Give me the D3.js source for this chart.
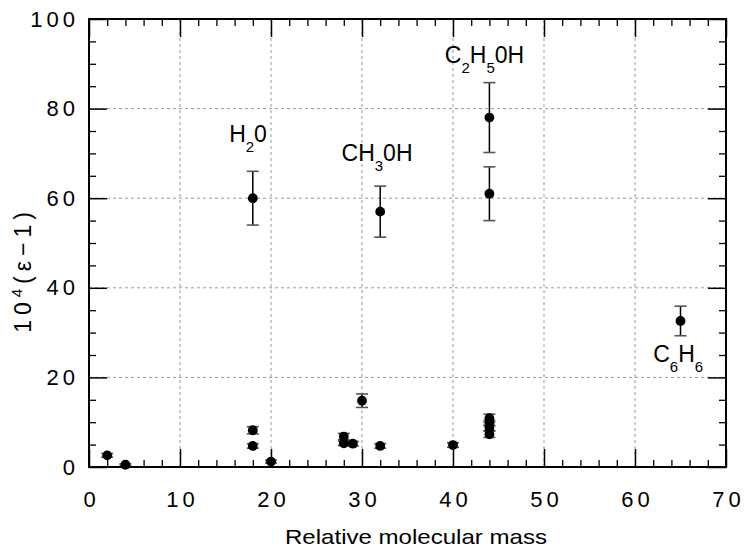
<!DOCTYPE html>
<html lang="en">
<head>
<meta charset="UTF-8">
<title>Relative molecular mass vs 10^4(eps-1)</title>
<script src="https://d3js.org/d3.v7.min.js"></script>
<style>
  body { margin: 0; background: #fff; }
  svg { font-family: "Liberation Sans", Arial, sans-serif; }
  .grid line { stroke: #999; stroke-width: 1; stroke-dasharray: 3,3; }
  .tick text { font-size: 22px; letter-spacing: 4px; fill: #000; }
  .axis path, .axis line { stroke: #000; }
</style>
</head>
<body>
<div id="chart"></div>
<script>
// data
const mass  = [2, 4, 18, 18, 18, 20, 28, 28, 29, 30, 32, 32, 40, 44, 44, 44, 44, 44, 44, 65];
const value = [2.6, 0.5, 60, 8.2, 4.7, 1.2, 6.8, 5.3, 5.2, 14.8, 57, 4.7, 4.9, 78, 61, 10.9, 9.8, 8.7, 7.3, 32.6];
const error = [0.4, 0.2, 6, 0.8, 0.5, 0.3, 0.7, 0.5, 0.5, 1.5, 5.7, 0.5, 0.5, 7.8, 6, 0.9, 0.6, 0.6, 0.7, 3.3];

const xTicks = [0, 10, 20, 30, 40, 50, 60, 70];
const yTicks = [0, 20, 40, 60, 80, 100];

// formula labels: [main, sub, main, sub ...], anchored in data units
const labelParts = [["H", "2", "0"], ["CH", "3", "0H"], ["C", "2", "H", "5", "0H"], ["C", "6", "H", "6"]];
const labelX = [15.4, 27.75, 39.1, 62.0];
const labelY = [72.6, 68.4, 90.2, 23.5];

const W = 746, H = 550;
const m = {left: 89, right: 20, top: 19, bottom: 83};

const svg = d3.select('#chart').append('svg')
    .attr('width', W).attr('height', H);

const x = d3.scaleLinear().domain([0, 70]).range([m.left, W - m.right]);
const y = d3.scaleLinear().domain([0, 100]).range([H - m.bottom, m.top]);

const x0 = x.range()[0], x1 = x.range()[1];
const y0 = y.range()[0], y1 = y.range()[1];

// dashed grid
const grid = svg.append('g').attr('class', 'grid');
grid.selectAll('.vx').data(xTicks.slice(1, -1)).enter().append('line')
    .attr('x1', d => x(d)).attr('x2', d => x(d)).attr('y1', y0).attr('y2', y1);
grid.selectAll('.hy').data(yTicks.slice(1, -1)).enter().append('line')
    .attr('y1', d => y(d)).attr('y2', d => y(d)).attr('x1', x0).attr('x2', x1);

// minor tick values
const xMinor = d3.range(0, 71, 2).filter(d => d % 10 !== 0);
const yMinor = d3.range(0, 101, 5).filter(d => d % 20 !== 0);

function addAxis(gen, tf, major, minor, labels) {
    const g = svg.append('g').attr('class', 'axis').attr('transform', tf);
    g.call(gen.tickValues(major).tickSize(-18).tickSizeOuter(0));
    g.select('.domain').remove();
    g.selectAll('.tick line').attr('stroke-width', 1.5);
    if (!labels) g.selectAll('.tick text').remove();
    const gm = svg.append('g').attr('class', 'axis').attr('transform', tf);
    gm.call(gen.tickValues(minor).tickSize(-7).tickFormat(''));
    gm.select('.domain').remove();
    gm.selectAll('.tick line').attr('stroke-width', 1.3);
    return g;
}

const gxb = addAxis(d3.axisBottom(x).tickPadding(24), `translate(0,${y0})`, xTicks, xMinor, true);
gxb.selectAll('.tick text').attr('dx', 2);
addAxis(d3.axisTop(x), `translate(0,${y1})`, xTicks, xMinor, false);
addAxis(d3.axisLeft(y).tickPadding(10), `translate(${x0},0)`, yTicks, yMinor, true);
addAxis(d3.axisRight(y), `translate(${x1},0)`, yTicks, yMinor, false);

// frame
svg.append('rect')
    .attr('x', x0).attr('y', y1).attr('width', x1 - x0).attr('height', y0 - y1)
    .attr('fill', 'none').attr('stroke', '#000').attr('stroke-width', 2);

// error bars and points
const pts = mass.map((d, i) => ({m: d, v: value[i], e: error[i]}));
const eb = svg.append('g');
eb.selectAll('.bar').data(pts).enter().append('line')
    .attr('x1', d => x(d.m)).attr('x2', d => x(d.m))
    .attr('y1', d => y(d.v - d.e)).attr('y2', d => y(d.v + d.e))
    .attr('stroke', '#000').attr('stroke-width', 1.5);
['top', 'bot'].forEach(k => {
    eb.selectAll('.cap-' + k).data(pts).enter().append('line')
        .attr('x1', d => x(d.m) - 6).attr('x2', d => x(d.m) + 6)
        .attr('y1', d => y(k === 'top' ? d.v + d.e : d.v - d.e))
        .attr('y2', d => y(k === 'top' ? d.v + d.e : d.v - d.e))
        .attr('stroke', '#555').attr('stroke-width', 1.6);
});
svg.append('g').selectAll('circle').data(pts).enter().append('circle')
    .attr('cx', d => x(d.m)).attr('cy', d => y(d.v)).attr('r', 4.9).attr('fill', '#000');

// formula labels
labelParts.forEach((parts, i) => {
    const t = svg.append('text')
        .attr('x', x(labelX[i])).attr('y', y(labelY[i]))
        .attr('font-size', 23).attr('fill', '#000');
    parts.forEach((p, j) => {
        const sub = j % 2 === 1;
        t.append('tspan')
            .attr('dy', sub ? 10 : (j > 0 ? -10 : 0))
            .attr('font-size', sub ? 15 : 23)
            .text(p);
    });
});

// axis titles
svg.append('text')
    .attr('x', 416).attr('y', 544)
    .attr('text-anchor', 'middle').attr('font-size', 21)
    .attr('textLength', 262).attr('lengthAdjust', 'spacingAndGlyphs')
    .text('Relative molecular mass');

const yt = svg.append('text')
    .attr('transform', 'translate(31,270) rotate(-90)')
    .attr('text-anchor', 'middle').attr('font-size', 23)
    .attr('letter-spacing', 5);
yt.append('tspan').text('10');
yt.append('tspan').attr('dy', -9).attr('font-size', 15).text('4');
yt.append('tspan').attr('dy', 9).text('(\u03b5\u22121)');
</script>
</body>
</html>
